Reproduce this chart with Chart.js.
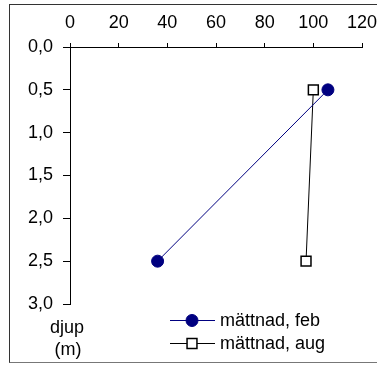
<!DOCTYPE html>
<html>
<head>
<meta charset="utf-8">
<script src="https://cdn.jsdelivr.net/npm/chart.js@4/dist/chart.umd.min.js"></script>
<style>
  html, body { margin: 0; padding: 0; background: #fff; overflow: hidden; }
  #wrap { position: relative; width: 377px; height: 365px; }
  #frame {
    position: absolute; left: 9px; top: 4px; width: 380px; height: 357px;
    border-left: 1px solid #333; border-top: 1px solid #333; border-bottom: 1px solid #777;
  }
  canvas { position: absolute; left: 0; top: 0; }
</style>
</head>
<body>
<div id="wrap">
  <div id="frame"></div>
  <canvas id="c" width="377" height="365"></canvas>
</div>
<script>
// Depth (m) of each sample and oxygen saturation (%) for both campaigns
const depths = [0.5, 2.5];
const saturationFeb = [106, 36];
const saturationAug = [100, 97];
const seriesNames = ['mättnad, feb', 'mättnad, aug'];
const xTickValues = [0, 20, 40, 60, 80, 100, 120];
const xTickLabels = ['0', '20', '40', '60', '80', '100', '120'];
const yTickValues = [0, 0.5, 1, 1.5, 2, 2.5, 3];
const yTickLabels = ['0,0', '0,5', '1,0', '1,5', '2,0', '2,5', '3,0'];
const depthLabel = ['djup', '(m)'];

const FONT = "'Liberation Sans', Arial, sans-serif";

function toPoints(xs, ys) {
  return xs.map((x, i) => ({ x: x, y: ys[i] }));
}

function labelFor(values, labels, v) {
  const i = values.findIndex(t => Math.abs(t - v) < 1e-9);
  return i >= 0 ? labels[i] : '';
}

// Legend drawn as line + marker samples in the lower right
const lineLegend = {
  id: 'lineLegend',
  afterDraw(chart) {
    const ctx = chart.ctx;
    const rows = [320, 343];
    chart.data.datasets.forEach((ds, i) => {
      const y = rows[i];
      ctx.save();
      ctx.strokeStyle = ds.borderColor;
      ctx.lineWidth = 1;
      ctx.beginPath();
      ctx.moveTo(170, y + 0.5);
      ctx.lineTo(215, y + 0.5);
      ctx.stroke();
      const mx = 192, my = y + 0.5;
      ctx.beginPath();
      if (ds.pointStyle === 'rect') {
        const s = Math.SQRT1_2 * ds.pointRadius;
        ctx.rect(mx - s, my - s, 2 * s, 2 * s);
      } else {
        ctx.arc(mx, my, ds.pointRadius, 0, Math.PI * 2);
      }
      ctx.fillStyle = ds.pointBackgroundColor;
      ctx.fill();
      ctx.lineWidth = ds.pointBorderWidth;
      ctx.strokeStyle = ds.pointBorderColor;
      ctx.stroke();
      ctx.fillStyle = '#000';
      ctx.font = '18px ' + FONT;
      ctx.textAlign = 'left';
      ctx.textBaseline = 'middle';
      ctx.fillText(seriesNames[i], 220, y + 1);
      ctx.restore();
    });
    // depth unit caption under the vertical axis
    ctx.save();
    ctx.fillStyle = '#000';
    ctx.font = '18px ' + FONT;
    ctx.textAlign = 'center';
    ctx.textBaseline = 'middle';
    ctx.fillText(depthLabel[0], 67, 328);
    ctx.fillText(depthLabel[1], 68, 350);
    ctx.restore();
  }
};

new Chart(document.getElementById('c'), {
  type: 'scatter',
  data: {
    datasets: [
      {
        label: seriesNames[0],
        data: toPoints(saturationFeb, depths),
        showLine: true,
        borderColor: '#000080',
        borderWidth: 1,
        pointStyle: 'circle',
        pointRadius: 6,
        pointHoverRadius: 6,
        pointBackgroundColor: '#000080',
        pointBorderColor: '#000080',
        pointBorderWidth: 1
      },
      {
        label: seriesNames[1],
        data: toPoints(saturationAug, depths),
        showLine: true,
        borderColor: '#000000',
        borderWidth: 1,
        pointStyle: 'rect',
        pointRadius: 7,
        pointHoverRadius: 7,
        pointBackgroundColor: '#ffffff',
        pointBorderColor: '#000000',
        pointBorderWidth: 1.5
      }
    ]
  },
  options: {
    responsive: false,
    animation: false,
    events: [],
    layout: { padding: { left: 0, top: 0, right: 15, bottom: 61 } },
    plugins: {
      legend: { display: false },
      tooltip: { enabled: false }
    },
    scales: {
      x: {
        type: 'linear',
        position: 'top',
        min: 0,
        max: 120,
        afterFit(scale) { scale.height = 47; scale.paddingLeft = 0; scale.paddingRight = 0; },
        ticks: {
          stepSize: 20,
          color: '#000',
          padding: 9,
          font: { family: FONT, size: 18 },
          callback: (v) => labelFor(xTickValues, xTickLabels, v)
        },
        grid: { drawOnChartArea: false, drawTicks: true, tickLength: 4, color: '#000' },
        border: { display: true, color: '#000', width: 1 }
      },
      y: {
        type: 'linear',
        position: 'left',
        reverse: true,
        min: 0,
        max: 3,
        afterFit(scale) { scale.width = 70; },
        ticks: {
          stepSize: 0.5,
          color: '#000',
          padding: 10,
          font: { family: FONT, size: 18 },
          callback: (v) => labelFor(yTickValues, yTickLabels, v)
        },
        grid: { drawOnChartArea: false, drawTicks: true, tickLength: 7, color: '#000' },
        border: { display: true, color: '#000', width: 1 }
      }
    }
  },
  plugins: [lineLegend]
});
</script>
</body>
</html>
